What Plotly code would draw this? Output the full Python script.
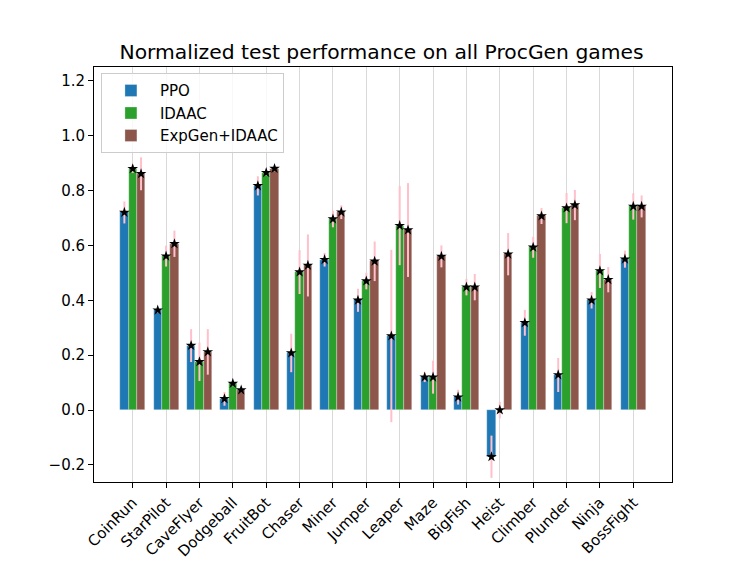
import plotly.graph_objects as go

games = ['CoinRun', 'StarPilot', 'CaveFlyer', 'Dodgeball', 'FruitBot', 'Chaser', 'Miner', 'Jumper',
         'Leaper', 'Maze', 'BigFish', 'Heist', 'Climber', 'Plunder', 'Ninja', 'BossFight']

# mean normalized test score per game
ppo = [0.72, 0.364, 0.235, 0.041, 0.817, 0.208, 0.548, 0.40, 0.27, 0.12, 0.047, -0.17, 0.318, 0.128, 0.40, 0.55]
idaac = [0.879, 0.561, 0.176, 0.097, 0.865, 0.503, 0.696, 0.47, 0.672, 0.12, 0.448, 0.0, 0.593, 0.736, 0.507, 0.742]
expgen = [0.861, 0.606, 0.212, 0.073, 0.88, 0.527, 0.721, 0.542, 0.656, 0.56, 0.448, 0.568, 0.707, 0.747, 0.475, 0.742]

# standard deviations (error bars)
ppo_std = [0.04, 0.01, 0.06, 0.025, 0.035, 0.07, 0.025, 0.042, 0.314, 0.018, 0.027, 0.077, 0.047, 0.062, 0.03, 0.031]
idaac_std = [0.015, 0.038, 0.07, 0.01, 0.01, 0.08, 0.03, 0.03, 0.144, 0.06, 0.03, 0.03, 0.038, 0.055, 0.062, 0.048]
expgen_std = [0.06, 0.048, 0.083, 0.01, 0.01, 0.113, 0.025, 0.072, 0.171, 0.04, 0.048, 0.077, 0.029, 0.055, 0.046, 0.04]

series = [('PPO', ppo, ppo_std, '#1f77b4', -0.25),
          ('IDAAC', idaac, idaac_std, '#2ca02c', 0.0),
          ('ExpGen+IDAAC', expgen, expgen_std, '#8c564b', 0.25)]

idx = list(range(len(games)))
font = 'DejaVu Sans'

fig = go.Figure()
## bars with pink error bars
for name, vals, std, color, off in series:
    fig.add_trace(go.Bar(x=[i + off for i in idx], y=vals, width=0.25, name=name,
                         marker=dict(color=color, line=dict(color='rgba(255,255,255,0.6)', width=0.5)),
                         error_y=dict(type='data', array=std, color='pink', thickness=2, width=0)))
## black stars on the bar tops
for name, vals, std, color, off in series:
    fig.add_trace(go.Scatter(x=[i + off for i in idx], y=vals, mode='markers', showlegend=False,
                             marker=dict(symbol='star', size=8, color='black'), hoverinfo='skip'))

# page body has an 8px margin, so the margins below are shifted by 8px
fig.update_layout(
    width=747, height=561,
    paper_bgcolor='white', plot_bgcolor='white',
    margin=dict(l=86, r=83, t=59, b=87),
    font=dict(family=font, size=15, color='black'),
    title=dict(text='Normalized test performance on all ProcGen games', x=0.5, xanchor='center',
               y=1 - 44 / 561, yanchor='middle', font=dict(size=20.3, family=font)),
    showlegend=True,
    legend=dict(x=0.012, y=0.985, xanchor='left', yanchor='top', bgcolor='rgba(255,255,255,0.8)',
                bordercolor='#cccccc', borderwidth=1, font=dict(size=15, family=font),
                tracegroupgap=2, itemwidth=48),
    bargap=0, barmode='overlay',
)
fig.update_xaxes(range=[-1.16, 16.16], tickvals=idx, ticktext=games, tickangle=-45, automargin=False,
                 showgrid=True, gridcolor='#d9d9d9', gridwidth=1, zeroline=False,
                 showline=True, linecolor='black', linewidth=1, mirror=True,
                 ticks='outside', ticklen=5, tickcolor='black', tickfont=dict(size=15))
fig.update_yaxes(range=[-0.262, 1.25], tickvals=[-0.2, 0.0, 0.2, 0.4, 0.6, 0.8, 1.0, 1.2], tickformat='.1f',
                 showgrid=False, zeroline=False, automargin=False,
                 showline=True, linecolor='black', linewidth=1, mirror=True,
                 ticks='outside', ticklen=5, tickcolor='black', tickfont=dict(size=15))

fig.write_html("out.html")
